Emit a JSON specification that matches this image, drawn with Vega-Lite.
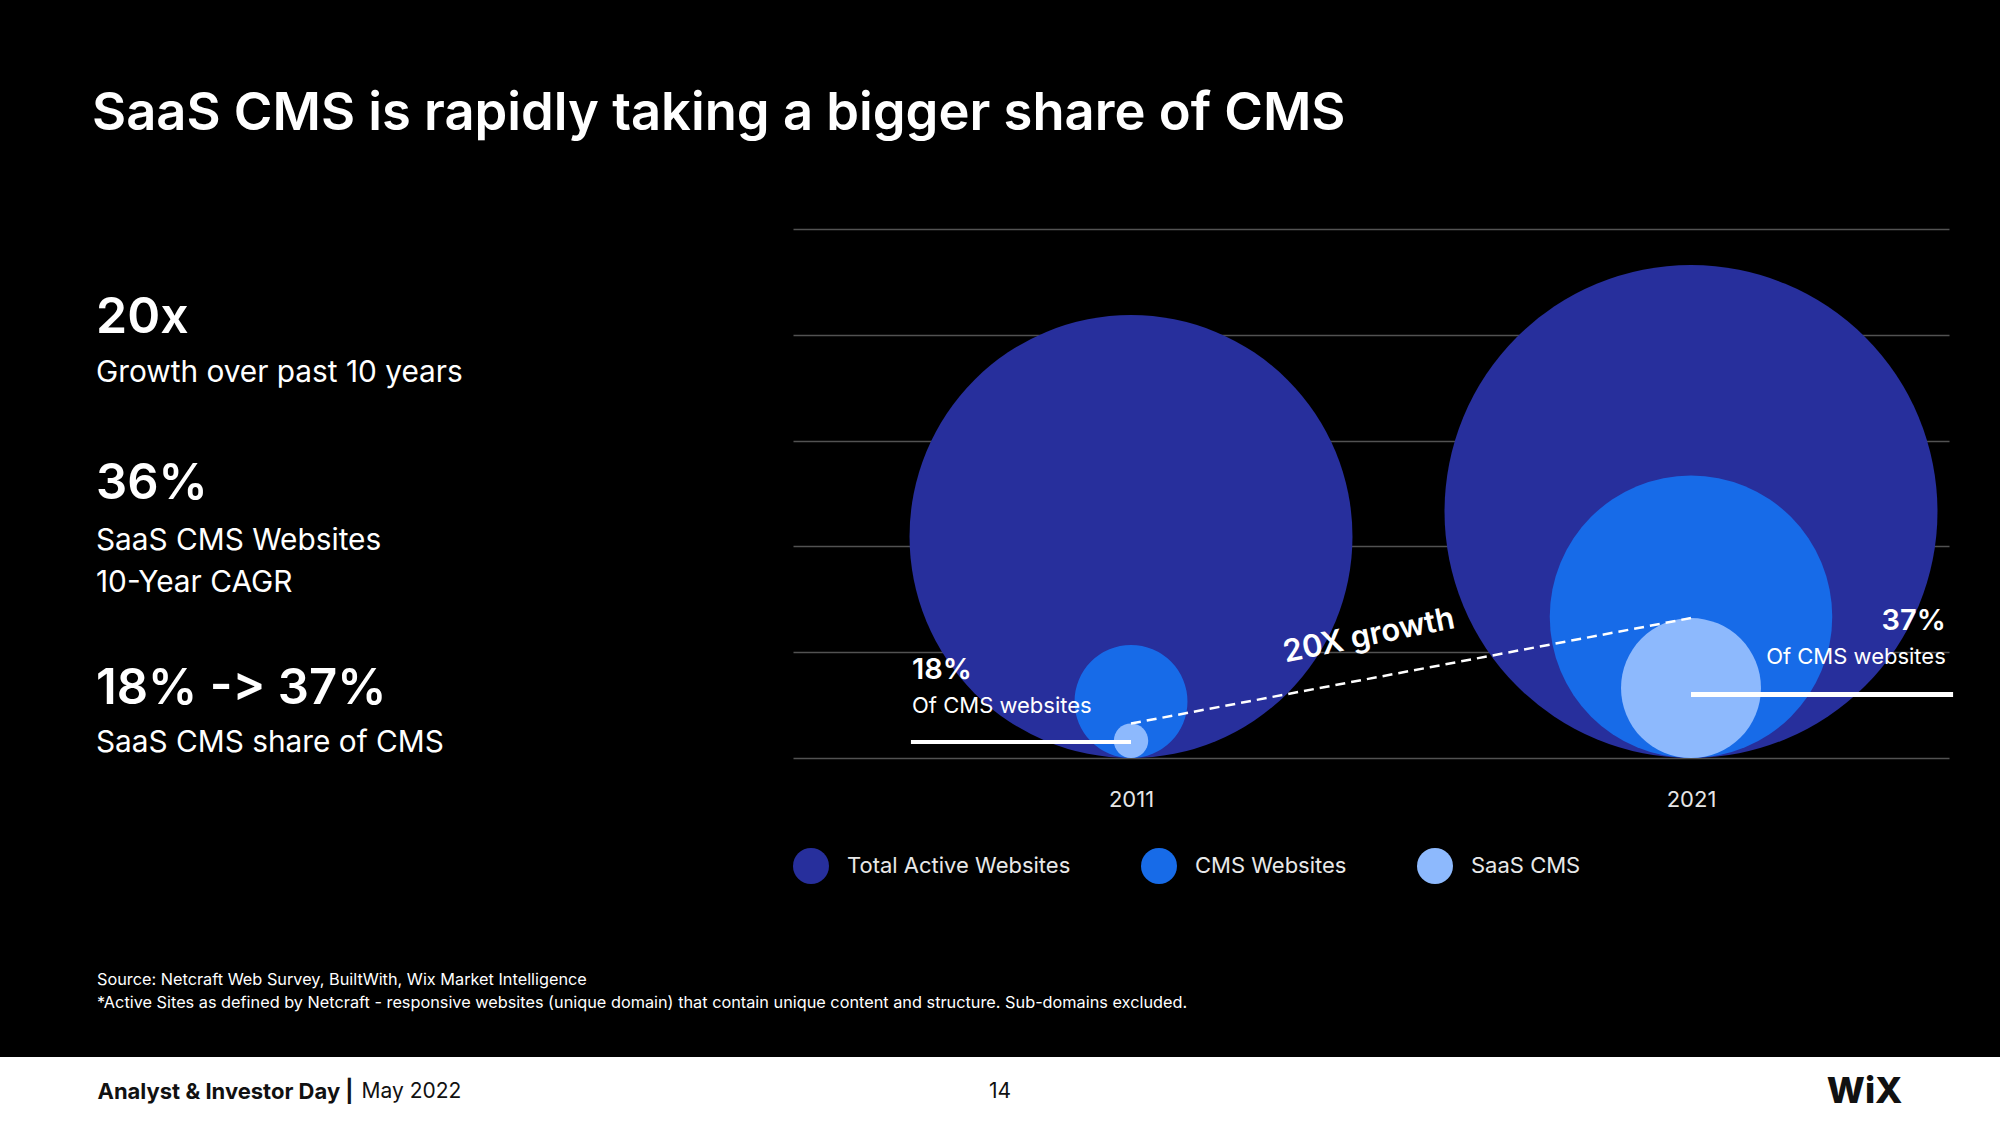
{
  "$schema": "https://vega.github.io/schema/vega-lite/v6.json",
  "background": "#000000",
  "padding": {"top": 87, "left": 0, "right": 0, "bottom": 0},
  "config": {"font": "Inter", "view": {"stroke": null}},
  "title": {"text": "SaaS CMS is rapidly taking a bigger share of CMS", "anchor": "start", "frame": "group", "dx": 92, "offset": 88, "fontSize": 52.5, "fontWeight": 600, "color": "#ffffff", "font": "Inter"},
  "datasets": {
    "sites": [
      {"year": 2011, "series": "Total Active Websites", "websites_m": 175.3},
      {"year": 2021, "series": "Total Active Websites", "websites_m": 217.1},
      {"year": 2011, "series": "CMS Websites", "websites_m": 11.4},
      {"year": 2021, "series": "CMS Websites", "websites_m": 71.3},
      {"year": 2011, "series": "SaaS CMS", "websites_m": 1.06},
      {"year": 2021, "series": "SaaS CMS", "websites_m": 17.5}
    ],
    "kpi": [
      {"figure": "20x", "caption": "Growth over past 10 years"},
      {"figure": "36%", "caption": "SaaS CMS Websites\n10-Year CAGR"},
      {"figure": "18% -\u200c> 37%", "caption": "SaaS CMS share of CMS"}
    ],
    "callouts": [
      {"year": 2011, "share": "18%", "note": "Of CMS websites"},
      {"year": 2021, "share": "37%", "note": "Of CMS websites"},
      {"year": 2016, "share": "20X growth", "note": ""}
    ],
    "footer": [
      {"slot": "left", "part": "event", "label": "Analyst & Investor Day |"},
      {"slot": "left", "part": "date", "label": "May 2022"},
      {"slot": "center", "part": "page", "label": "14"},
      {"slot": "right", "part": "logo", "label": "WiX"}
    ]
  },
  "spacing": 828,
  "bounds": "flush",
  "resolve": {"scale": {"color": "independent"}, "legend": {"color": "independent"}},
  "vconcat": [
    {
      "spacing": 793,
      "bounds": "flush",
      "resolve": {"scale": {"color": "independent"}, "legend": {"color": "independent"}},
      "hconcat": [
        {
          "spacing": 0,
          "bounds": "flush",
          "vconcat": [
            {
              "width": 192, "height": 208,
              "data": {"name": "kpi"},
              "transform": [{"filter": {"field": "figure", "equal": "20x"}}],
              "layer": [
                {"mark": {"type": "text", "align": "left", "baseline": "alphabetic", "fontSize": 50, "fontWeight": 600, "color": "#ffffff"}, "encoding": {"text": {"field": "figure", "type": "nominal"}}},
                {"mark": {"type": "text", "align": "left", "baseline": "alphabetic", "fontSize": 29.8, "fontWeight": 400, "color": "#ffffff", "lineBreak": "\n", "lineHeight": 42, "dy": 49}, "encoding": {"text": {"field": "caption", "type": "nominal"}}}
              ]
            },
            {
              "width": 192, "height": 124,
              "data": {"name": "kpi"},
              "transform": [{"filter": {"field": "figure", "equal": "36%"}}],
              "layer": [
                {"mark": {"type": "text", "align": "left", "baseline": "alphabetic", "fontSize": 49, "fontWeight": 600, "color": "#ffffff"}, "encoding": {"text": {"field": "figure", "type": "nominal"}}},
                {"mark": {"type": "text", "align": "left", "baseline": "alphabetic", "fontSize": 29.8, "fontWeight": 400, "color": "#ffffff", "lineBreak": "\n", "lineHeight": 42, "dy": 51}, "encoding": {"text": {"field": "caption", "type": "nominal"}}}
              ]
            },
            {
              "width": 192, "height": 286,
              "data": {"name": "kpi"},
              "transform": [{"filter": {"field": "caption", "equal": "SaaS CMS share of CMS"}}],
              "layer": [
                {"mark": {"type": "text", "align": "left", "baseline": "alphabetic", "fontSize": 49, "fontWeight": 600, "color": "#ffffff"}, "encoding": {"text": {"field": "figure", "type": "nominal"}}},
                {"mark": {"type": "text", "align": "left", "baseline": "alphabetic", "fontSize": 29.8, "fontWeight": 400, "color": "#ffffff", "lineBreak": "\n", "lineHeight": 42, "dy": 48}, "encoding": {"text": {"field": "caption", "type": "nominal"}}}
              ]
            }
          ]
        },
        {
          "width": 1156,
          "height": 529,
          "resolve": {"scale": {"y": "independent"}},
          "layer": [
            {
              "layer": [
                {
                  "data": {"name": "sites"},
                  "mark": {"type": "circle", "opacity": 1, "strokeWidth": 0},
                  "encoding": {
                    "x": {"field": "year", "type": "quantitative", "title": null,
                      "scale": {"domain": [2004.9643, 2025.6071], "zero": false, "nice": false},
                      "axis": {"values": [2011, 2021], "format": "d", "grid": false, "ticks": false, "tickSize": 0, "domain": false, "labelColor": "#e6e6e6", "labelFontSize": 22, "labelFont": "Inter", "labelPadding": 31, "labelFlush": false}},
                    "y": {"field": "websites_m", "type": "quantitative", "title": null,
                      "scale": {"type": "sqrt", "domain": [0, 1000], "zero": true, "nice": false},
                      "axis": {"values": [0, 40, 160, 360, 640, 1000], "labels": false, "ticks": false, "domain": false, "grid": true, "gridColor": "#525252", "gridWidth": 1.6}},
                    "size": {"field": "websites_m", "type": "quantitative", "legend": null,
                      "scale": {"type": "linear", "domain": [0, 1000], "range": [0, 1119360], "zero": true}},
                    "color": {"field": "series", "type": "nominal",
                      "scale": {"domain": ["Total Active Websites", "CMS Websites", "SaaS CMS"], "range": ["#272F9C", "#176BE8", "#8DB9FD"]},
                      "legend": {"orient": "bottom", "direction": "horizontal", "title": null, "symbolType": "circle", "symbolSize": 1296, "symbolStrokeWidth": 0, "symbolOpacity": 1, "labelFontSize": 22, "labelFont": "Inter", "labelColor": "#e8e8e8", "labelOffset": 18, "columnPadding": 70, "offset": 38, "labelLimit": 400}}
                  }
                },
                {
                  "data": {"name": "callouts"},
                  "transform": [{"filter": {"field": "year", "equal": 2011}}],
                  "layer": [
                    {"mark": {"type": "rule", "color": "#ffffff", "strokeWidth": 4},
                     "encoding": {"x": {"field": "year", "type": "quantitative", "title": null}, "x2": {"datum": 2007.07}, "y": {"datum": 0.92, "type": "quantitative", "title": null}}},
                    {"mark": {"type": "text", "align": "left", "baseline": "alphabetic", "fontSize": 29, "fontWeight": 600, "color": "#ffffff"},
                     "encoding": {"x": {"datum": 2007.09, "type": "quantitative", "title": null}, "y": {"datum": 22.3, "type": "quantitative", "title": null}, "text": {"field": "share", "type": "nominal"}}},
                    {"mark": {"type": "text", "align": "left", "baseline": "alphabetic", "fontSize": 22, "fontWeight": 400, "color": "#ffffff"},
                     "encoding": {"x": {"datum": 2007.09, "type": "quantitative", "title": null}, "y": {"datum": 7.08, "type": "quantitative", "title": null}, "text": {"field": "note", "type": "nominal"}}}
                  ]
                },
                {
                  "data": {"name": "callouts"},
                  "transform": [{"filter": {"field": "year", "equal": 2021}}],
                  "layer": [
                    {"mark": {"type": "rule", "color": "#ffffff", "strokeWidth": 5},
                     "encoding": {"x": {"field": "year", "type": "quantitative", "title": null}, "x2": {"datum": 2025.68}, "y": {"datum": 14.41, "type": "quantitative", "title": null}}},
                    {"mark": {"type": "text", "align": "right", "baseline": "alphabetic", "fontSize": 29, "fontWeight": 600, "color": "#ffffff"},
                     "encoding": {"x": {"datum": 2025.55, "type": "quantitative", "title": null}, "y": {"datum": 58.27, "type": "quantitative", "title": null}, "text": {"field": "share", "type": "nominal"}}},
                    {"mark": {"type": "text", "align": "right", "baseline": "alphabetic", "fontSize": 22, "fontWeight": 400, "color": "#ffffff"},
                     "encoding": {"x": {"datum": 2025.55, "type": "quantitative", "title": null}, "y": {"datum": 31.78, "type": "quantitative", "title": null}, "text": {"field": "note", "type": "nominal"}}}
                  ]
                },
                {
                  "data": {"name": "callouts"},
                  "transform": [{"filter": {"field": "year", "equal": 2016}}],
                  "mark": {"type": "text", "align": "center", "baseline": "middle", "angle": 348.5, "fontSize": 31, "fontWeight": 600, "color": "#ffffff"},
                  "encoding": {"x": {"datum": 2015.25, "type": "quantitative", "title": null}, "y": {"datum": 53, "type": "quantitative", "title": null}, "text": {"field": "share", "type": "nominal"}}
                }
              ]
            },
            {
              "data": {"name": "sites"},
              "transform": [{"filter": {"field": "series", "equal": "SaaS CMS"}}],
              "mark": {"type": "line", "color": "#ffffff", "strokeWidth": 2.5, "strokeDash": [10, 6]},
              "encoding": {
                "x": {"field": "year", "type": "quantitative", "title": null, "scale": {"domain": [2004.9643, 2025.6071], "zero": false, "nice": false}},
                "y": {"field": "websites_m", "type": "quantitative", "title": null, "axis": null, "scale": {"type": "sqrt", "domain": [0, 250], "zero": true, "nice": false}}
              }
            }
          ]
        }
      ]
    },
    {
      "width": 2000,
      "height": 69,
      "view": {"fill": "#ffffff", "stroke": null},
      "title": {"text": ["Source: Netcraft Web Survey, BuiltWith, Wix Market Intelligence", "*Active Sites as defined by Netcraft - responsive websites (unique domain) that contain unique content and structure. Sub-domains excluded."], "anchor": "start", "frame": "group", "dx": 97, "offset": 46, "fontSize": 16.3, "fontWeight": 400, "color": "#ffffff", "lineHeight": 23, "font": "Inter"},
      "data": {"name": "footer"},
      "encoding": {"x": {"field": "slot", "type": "nominal", "axis": null, "scale": {"type": "point", "domain": ["left", "center", "right"], "padding": 0.108}}},
      "layer": [
        {"transform": [{"filter": {"field": "part", "equal": "event"}}], "mark": {"type": "text", "align": "left", "baseline": "middle", "fontSize": 22, "fontWeight": 700, "color": "#111111"}, "encoding": {"text": {"field": "label", "type": "nominal"}}},
        {"transform": [{"filter": {"field": "part", "equal": "date"}}], "mark": {"type": "text", "align": "left", "baseline": "middle", "fontSize": 21, "fontWeight": 400, "color": "#111111", "dx": 264}, "encoding": {"text": {"field": "label", "type": "nominal"}}},
        {"transform": [{"filter": {"field": "part", "equal": "page"}}], "mark": {"type": "text", "align": "center", "baseline": "middle", "fontSize": 21, "fontWeight": 400, "color": "#111111"}, "encoding": {"text": {"field": "label", "type": "nominal"}}},
        {"transform": [{"filter": {"field": "part", "equal": "logo"}}], "mark": {"type": "text", "align": "right", "baseline": "middle", "fontSize": 36, "fontWeight": 800, "color": "#111111"}, "encoding": {"text": {"field": "label", "type": "nominal"}}}
      ]
    }
  ]
}
